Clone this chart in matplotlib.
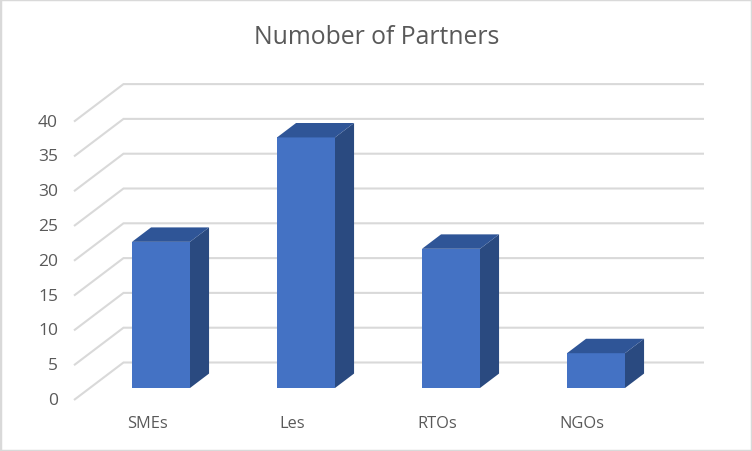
import matplotlib
matplotlib.use("Agg")
import matplotlib.pyplot as plt
from matplotlib.patches import Rectangle

categories = ["SMEs", "Les", "RTOs", "NGOs"]
values = [21, 36, 20, 5]
y_ticks = [0, 5, 10, 15, 20, 25, 30, 35, 40]
title = "Numober of Partners"

W, H = 752, 452
PX_X = 145.0          # pixels per category
PX_Y = 6.96           # pixels per value unit
X0, Y0 = 161.0, 401.0 # pixel position of first category / zero on the front plane
DEPTH_X, DEPTH_Y = 49.5, 37.5  # floor depth in pixels
BAR_F, BAR_B = 0.32, 0.705     # bar front / back as a fraction of depth
BAR_W = 58.0

GRID = "#D9D9D9"
TEXT = "#595959"
FRONT, SIDE, TOP = "#4472C4", "#2A4A80", "#2F5597"

plt.rcParams["font.family"] = ["Open Sans", "DejaVu Sans"]
fig = plt.figure(figsize=(W / 100, H / 100), dpi=100, facecolor="white")
ax = fig.add_axes([0, 0, 1, 1])
ax.set_xlim(-X0 / PX_X, (W - X0) / PX_X)
ax.set_ylim((Y0 - H) / PX_Y, Y0 / PX_Y)
ax.axis("off")

ddx, ddy = DEPTH_X / PX_X, DEPTH_Y / PX_Y
left = (74 - X0) / PX_X
right = (704 - X0) / PX_X
hw = BAR_W / PX_X / 2

for t in y_ticks:
    ax.plot([left, left + ddx, right], [t, t + ddy, t + ddy], color=GRID, lw=1.5,
            solid_joinstyle="miter", solid_capstyle="butt", zorder=1)
    ax.annotate(str(t), (left, t), xytext=(-16 * 0.72, 0), textcoords="offset points",
                ha="right", va="center", color=TEXT, fontsize=12.5)

for i, (name, v) in enumerate(zip(categories, values)):
    fx, fy = float(i), BAR_F * ddy
    bx, by = (BAR_B - BAR_F) * ddx, (BAR_B - BAR_F) * ddy
    ax.fill([fx - hw, fx + hw, fx + hw, fx - hw], [fy, fy, fy + v, fy + v],
            color=FRONT, lw=0, zorder=3)
    ax.fill([fx + hw, fx + hw + bx, fx + hw + bx, fx + hw],
            [fy, fy + by, fy + v + by, fy + v], color=SIDE, lw=0, zorder=3)
    ax.fill([fx - hw, fx + hw, fx + hw + bx, fx - hw + bx],
            [fy + v, fy + v, fy + v + by, fy + v + by], color=TOP, lw=0, zorder=3)
    ax.annotate(name, (i, 0), xytext=(-14 * 0.72, -23 * 0.72), textcoords="offset points",
                ha="center", va="center", color=TEXT, fontsize=11.8)

fig.text(377 / W, 1 - 37 / H, title, ha="center", va="center", color=TEXT, fontsize=17.8)

fig.add_artist(Rectangle((0, 0), 1, 1, transform=fig.transFigure, fill=False,
                         edgecolor="#D9D9D9", lw=2.5))
fig.savefig("out.png", dpi=100)
